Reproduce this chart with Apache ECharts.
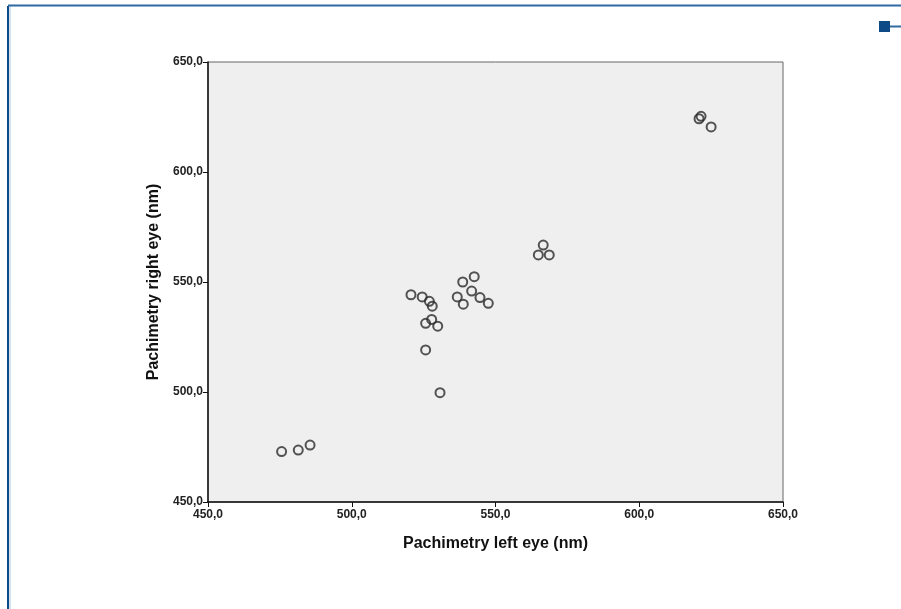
<!DOCTYPE html>
<html>
<head>
<meta charset="utf-8">
<script src="https://cdn.jsdelivr.net/npm/echarts@6/dist/echarts.min.js"></script>
<style>
  html, body { margin: 0; padding: 0; background: #fff; }
  #chart { width: 901px; height: 609px; }
</style>
</head>
<body>
<div id="chart"></div>
<script>
// pachimetry values (nm)
var leftEye = [475.6, 481.4, 485.5, 520.6, 524.5, 527.0, 528.0, 525.7, 527.8, 529.9, 525.7, 530.7,
  538.6, 542.6, 536.7, 538.8, 541.7, 544.6, 547.5, 566.6, 564.9, 568.7, 620.8, 621.5, 625.0];
var rightEye = [472.9, 473.6, 475.9, 544.2, 543.2, 541.2, 539.0, 531.2, 533.0, 529.9, 519.1, 499.7,
  550.0, 552.4, 543.2, 539.9, 545.9, 542.9, 540.3, 566.8, 562.3, 562.3, 624.2, 625.3, 620.5];
var axisMin = 450, axisMax = 650, axisStep = 50;

var points = leftEye.map(function (x, i) { return [x, rightEye[i]]; });

var chart = echarts.init(document.getElementById('chart'));

var labelStyle = {
  color: '#222',
  fontFamily: 'Liberation Sans',
  fontSize: 12,
  fontWeight: 'bold',
  formatter: function (v) { return v.toFixed(1).replace('.', ','); }
};

chart.setOption({
  animation: false,
  backgroundColor: '#fff',
  grid: {
    left: 208, top: 62, right: 118, bottom: 107,
    show: true,
    backgroundColor: '#efefef',
    borderColor: '#666',
    borderWidth: 1
  },
  xAxis: {
    type: 'value',
    min: axisMin, max: axisMax, interval: axisStep,
    name: 'Pachimetry left eye (nm)',
    nameLocation: 'middle',
    nameGap: 34,
    nameTextStyle: { color: '#111', fontFamily: 'Liberation Sans', fontSize: 16, fontWeight: 'bold' },
    axisLine: { lineStyle: { color: '#111', width: 1.5 } },
    axisTick: { show: true, length: 5, lineStyle: { color: '#111' } },
    axisLabel: Object.assign({ margin: 7 }, labelStyle),
    splitLine: { show: false }
  },
  yAxis: {
    type: 'value',
    min: axisMin, max: axisMax, interval: axisStep,
    name: 'Pachimetry right eye (nm)',
    nameLocation: 'middle',
    nameGap: 46,
    nameTextStyle: { color: '#111', fontFamily: 'Liberation Sans', fontSize: 16, fontWeight: 'bold' },
    axisLine: { show: true, lineStyle: { color: '#111', width: 1.5 } },
    axisTick: { show: true, length: 5, lineStyle: { color: '#111' } },
    axisLabel: Object.assign({ margin: 5 }, labelStyle),
    splitLine: { show: false }
  },
  series: [{
    type: 'scatter',
    data: points,
    symbol: 'circle',
    symbolSize: 9,
    itemStyle: { color: 'rgba(0,0,0,0)', borderColor: '#2a2a2a', borderWidth: 2 }
  }],
  graphic: [
    { type: 'line', shape: { x1: 8, y1: 6, x2: 8, y2: 609 }, style: { stroke: '#0d4a86', lineWidth: 2 } },
    { type: 'line', shape: { x1: 10, y1: 6, x2: 10, y2: 609 }, style: { stroke: '#a9c4e0', lineWidth: 1 } },
    { type: 'line', shape: { x1: 8, y1: 5.5, x2: 901, y2: 5.5 }, style: { stroke: '#2f6aa3', lineWidth: 2 } },
    { type: 'rect', shape: { x: 879, y: 21, width: 11, height: 11 }, style: { fill: '#0d4a86' } },
    { type: 'line', shape: { x1: 890, y1: 26.5, x2: 901, y2: 26.5 }, style: { stroke: '#2f6aa3', lineWidth: 2 } }
  ]
});
</script>
</body>
</html>
